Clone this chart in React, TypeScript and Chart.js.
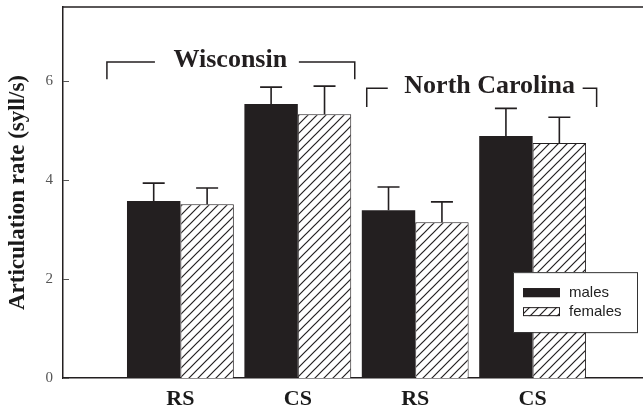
import React, { useEffect, useRef } from "react";
import { Chart, registerables } from "chart.js";

Chart.register(...registerables);

// ---- data ----
const categories = ["RS", "CS", "RS", "CS"];
const categoryPositions = [1, 2, 3, 4];
const malesMean = [3.58, 5.54, 3.39, 4.89];
const malesErr = [0.36, 0.34, 0.47, 0.56];
const femalesMean = [3.51, 5.33, 3.15, 4.75];
const femalesErr = [0.33, 0.57, 0.41, 0.52];
const yTickValues = [0, 2, 4, 6];
const seriesNames = ["males", "females"];
const groupNames = ["Wisconsin", "North Carolina"];

const INK = "#231f20";

function makeHatch(): CanvasPattern | string {
  const s = 9;
  const c = document.createElement("canvas");
  c.width = s;
  c.height = s;
  const g = c.getContext("2d");
  if (!g) return "#fff";
  g.fillStyle = "#ffffff";
  g.fillRect(0, 0, s, s);
  g.strokeStyle = INK;
  g.lineWidth = 1.2;
  g.beginPath();
  g.moveTo(0, s);
  g.lineTo(s, 0);
  g.moveTo(-2, 2);
  g.lineTo(2, -2);
  g.moveTo(s - 2, s + 2);
  g.lineTo(s + 2, s - 2);
  g.stroke();
  return g.createPattern(c, "repeat") || "#fff";
}

const errorBarsPlugin = {
  id: "errorBars",
  afterDatasetsDraw(chart: any) {
    const ctx = chart.ctx;
    const ys = chart.scales.y;
    const errs = [malesErr, femalesErr];
    const means = [malesMean, femalesMean];
    ctx.save();
    ctx.strokeStyle = INK;
    ctx.lineWidth = 1.6;
    chart.data.datasets.forEach((_ds: any, di: number) => {
      const meta = chart.getDatasetMeta(di);
      meta.data.forEach((bar: any, i: number) => {
        const top = ys.getPixelForValue(means[di][i]);
        const end = ys.getPixelForValue(means[di][i] + errs[di][i]);
        ctx.beginPath();
        ctx.moveTo(bar.x, top);
        ctx.lineTo(bar.x, end);
        ctx.moveTo(bar.x - 11, end);
        ctx.lineTo(bar.x + 11, end);
        ctx.stroke();
      });
    });
    ctx.restore();
  },
};

const framePlugin = {
  id: "frame",
  afterDraw(chart: any) {
    const ctx = chart.ctx;
    const { left, right, top } = chart.chartArea;
    const ys = chart.scales.y;
    const xs = chart.scales.x;
    ctx.save();
    ctx.strokeStyle = INK;
    ctx.lineWidth = 1.5;
    ctx.beginPath();
    ctx.moveTo(left - 0.75, top);
    ctx.lineTo(right, top);
    ctx.stroke();
    // inward ticks
    ctx.strokeStyle = "#555";
    ctx.lineWidth = 1;
    yTickValues.forEach((v) => {
      const y = Math.round(ys.getPixelForValue(v)) + 0.5;
      ctx.beginPath();
      ctx.moveTo(left, y);
      ctx.lineTo(left + 6, y);
      ctx.stroke();
    });

    // group brackets
    const px = (v: number) => xs.getPixelForValue(v);
    const py = (v: number) => ys.getPixelForValue(v);
    ctx.strokeStyle = INK;
    ctx.lineWidth = 1.5;
    const bracket = (x1: number, x2: number, x3: number, x4: number, yTop: number, yBot: number) => {
      ctx.beginPath();
      ctx.moveTo(px(x1), py(yBot));
      ctx.lineTo(px(x1), py(yTop));
      ctx.lineTo(px(x2), py(yTop));
      ctx.moveTo(px(x3), py(yTop));
      ctx.lineTo(px(x4), py(yTop));
      ctx.lineTo(px(x4), py(yBot));
      ctx.stroke();
    };
    bracket(0.374, 0.783, 2.009, 2.485, 6.39, 6.04);
    bracket(2.587, 2.766, 4.426, 4.545, 5.86, 5.48);
    ctx.fillStyle = INK;
    ctx.font = "bold 26px 'Liberation Serif', 'Times New Roman', serif";
    ctx.textAlign = "center";
    ctx.textBaseline = "alphabetic";
    ctx.fillText(groupNames[0], px(1.425), py(6.39) + 5);
    ctx.fillText(groupNames[1], px(3.634), py(5.86) + 5);

    // legend
    const bx = right - 130;
    const by = ys.getPixelForValue(2.14);
    const bw = 124;
    const bh = 60;
    ctx.fillStyle = "#fff";
    ctx.fillRect(bx, by, bw, bh);
    ctx.strokeStyle = "#333";
    ctx.lineWidth = 1;
    ctx.strokeRect(bx + 0.5, by + 0.5, bw, bh);
    const fills = [INK, chart.data.datasets[1].backgroundColor];
    seriesNames.forEach((name, i) => {
      const sy = by + 16 + i * 19;
      ctx.fillStyle = fills[i];
      ctx.fillRect(bx + 10, sy, 37, 9);
      ctx.strokeStyle = INK;
      ctx.lineWidth = 1;
      ctx.strokeRect(bx + 10.5, sy + 0.5, 36, 8);
      ctx.fillStyle = "#222";
      ctx.font = "15px 'Liberation Sans', Arial, sans-serif";
      ctx.textAlign = "left";
      ctx.textBaseline = "middle";
      ctx.fillText(name, bx + 56, sy + 4.5);
    });
    ctx.restore();
  },
};

export default function App() {
  const ref = useRef<HTMLCanvasElement | null>(null);
  useEffect(() => {
    if (!ref.current) return;
    const hatch = makeHatch();
    const chart = new Chart(ref.current, {
      type: "bar",
      data: {
        datasets: [
          {
            label: seriesNames[0],
            data: categoryPositions.map((x, i) => ({ x, y: malesMean[i] })),
            backgroundColor: INK,
            borderColor: INK,
            borderWidth: 0,
            categoryPercentage: 0.91,
            barPercentage: 1,
          },
          {
            label: seriesNames[1],
            data: categoryPositions.map((x, i) => ({ x, y: femalesMean[i] })),
            backgroundColor: hatch as any,
            borderColor: INK,
            borderWidth: 1,
            categoryPercentage: 0.91,
            barPercentage: 1,
          },
        ],
      },
      options: {
        animation: false,
        responsive: false,
        devicePixelRatio: 1,
        layout: { padding: { top: 7, right: 0, left: 0, bottom: 0 } },
        plugins: { legend: { display: false }, tooltip: { enabled: false } },
        scales: {
          x: {
            type: "linear",
            min: 0,
            max: 4.94,
            offset: false,
            grid: { display: false, drawTicks: false, offset: false },
            border: { display: true, color: INK, width: 1.5 },
            ticks: {
              stepSize: 1,
              includeBounds: false,
              autoSkip: false,
              maxRotation: 0,
              padding: 8,
              color: "#1a1a1a",
              font: { family: "'Liberation Serif', 'Times New Roman', serif", size: 22, weight: "bold" },
              callback: (v: any) => {
                const idx = categoryPositions.indexOf(Number(v));
                return idx >= 0 ? categories[idx] : "";
              },
            },
            afterFit: (s: any) => {
              s.height = 34;
              s.paddingLeft = 0;
              s.paddingRight = 0;
            },
          },
          y: {
            min: 0,
            max: 7.5,
            grid: { display: false, drawTicks: false },
            border: { display: true, color: INK, width: 1.5 },
            ticks: {
              stepSize: 2,
              padding: 10,
              color: "#555",
              font: { family: "'Liberation Serif', 'Times New Roman', serif", size: 15 },
              callback: (v: any) => (yTickValues.includes(Number(v)) ? String(v) : ""),
            },
            title: {
              display: true,
              text: "Articulation rate (syll/s)",
              color: "#1a1a1a",
              padding: { top: 4, bottom: 0 },
              font: { family: "'Liberation Serif', 'Times New Roman', serif", size: 23, weight: "bold" },
            },
            afterFit: (s: any) => {
              s.width = 63;
              s.paddingTop = 0;
              s.paddingBottom = 0;
            },
          },
        },
      },
      plugins: [errorBarsPlugin, framePlugin],
    } as any);
    return () => chart.destroy();
  }, []);
  return (
    <div style={{ position: "absolute", left: 0, top: 0, width: 643, height: 412, background: "#fff" }}>
      <canvas ref={ref} width={643} height={412} />
    </div>
  );
}
